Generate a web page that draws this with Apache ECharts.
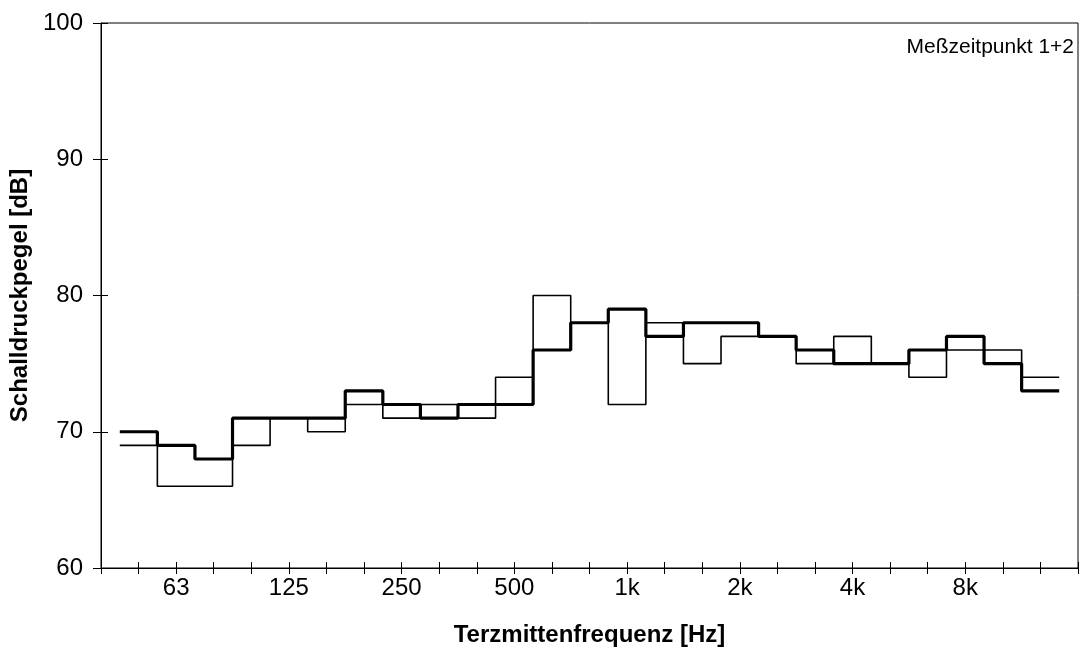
<!DOCTYPE html>
<html>
<head>
<meta charset="utf-8">
<script src="https://cdn.jsdelivr.net/npm/echarts@6/dist/echarts.min.js"></script>
<style>html,body{margin:0;padding:0;background:#fff}#c{width:1080px;height:648px}</style>
</head>
<body>
<div id="c"></div>
<script>
// Third-octave bands (axis index 1..25)
const bands = ['50','63','80','100','125','160','200','250','315','400','500','630','800','1k','1.25k','1.6k','2k','2.5k','3.15k','4k','5k','6.3k','8k','10k','12.5k'];
const tickLabels = ['63','125','250','500','1k','2k','4k','8k'];
// Series values [dB]
const levelThick = [70,69,68,71,71,71,73,72,71,72,72,76,78,79,77,78,78,77,76,75,75,76,77,75,73];
const levelThin  = [69,66,66,69,71,70,72,71,72,71,74,80,78,72,78,75,77,77,75,77,75,74,76,76,74];
const yTicks = [60,70,80,90,100];
const annotation = 'Meßzeitpunkt 1+2';
const xTitle = 'Terzmittenfrequenz [Hz]';
const yTitle = 'Schalldruckpegel [dB]';

function stepPoints(vals){
  const pts = [];
  vals.forEach((v,k)=>{ const i=k+1; pts.push([i-0.5,v]); pts.push([i+0.5,v]); });
  return pts;
}
const font = 'Liberation Sans, Arial, sans-serif';
const chart = echarts.init(document.getElementById('c'), null, {renderer:'canvas'});
const xLabel = v => { const b = bands[v-1]; return (b && tickLabels.indexOf(b) >= 0) ? b : ''; };
chart.setOption({
  animation:false,
  backgroundColor:'#fff',
  title:{ text: annotation, right: 6, top: 37, padding:0, textStyle:{fontFamily:font,fontSize:21,fontWeight:'normal',color:'#000'} },
  grid:{ left:101, top:23, right:2, bottom:80, show:true, borderColor:'#000', borderWidth:1, containLabel:false, outerBoundsMode:'none' },
  xAxis:[{
    type:'value', min:0, max:26, interval:1,
    name:xTitle, nameLocation:'middle', nameGap:55,
    nameTextStyle:{fontFamily:font,fontSize:24,fontWeight:'bold',color:'#000'},
    axisLine:{show:true,lineStyle:{color:'#000',width:1}},
    axisTick:{show:true,length:6,lineStyle:{color:'#000'}},
    axisLabel:{formatter:xLabel,fontFamily:font,fontSize:24,color:'#000',margin:8},
    splitLine:{show:false}
  },{
    type:'value', min:0, max:26, interval:1, position:'bottom',
    axisLine:{show:false},
    axisTick:{show:true,inside:true,length:6,lineStyle:{color:'#000'}},
    axisLabel:{show:false}, splitLine:{show:false}
  }],
  yAxis:[{
    type:'value', min:yTicks[0], max:yTicks[yTicks.length-1], interval:10,
    name:yTitle, nameLocation:'middle', nameGap:66, nameRotate:90,
    nameTextStyle:{fontFamily:font,fontSize:24,fontWeight:'bold',color:'#000'},
    axisLine:{show:true,lineStyle:{color:'#000',width:1}},
    axisTick:{show:true,length:8,lineStyle:{color:'#000'}},
    axisLabel:{fontFamily:font,fontSize:24,color:'#000',margin:18},
    splitLine:{show:false}
  },{
    type:'value', min:yTicks[0], max:yTicks[yTicks.length-1], interval:10, position:'left',
    axisLine:{show:false},
    axisTick:{show:true,inside:true,length:7,lineStyle:{color:'#000'}},
    axisLabel:{show:false}, splitLine:{show:false}
  }],
  series:[
    { type:'line', data:stepPoints(levelThin), showSymbol:false, lineStyle:{color:'#000',width:1.6}, z:2 },
    { type:'line', data:stepPoints(levelThick), showSymbol:false, lineStyle:{color:'#000',width:3.2}, z:3 }
  ]
});
</script>
</body>
</html>
